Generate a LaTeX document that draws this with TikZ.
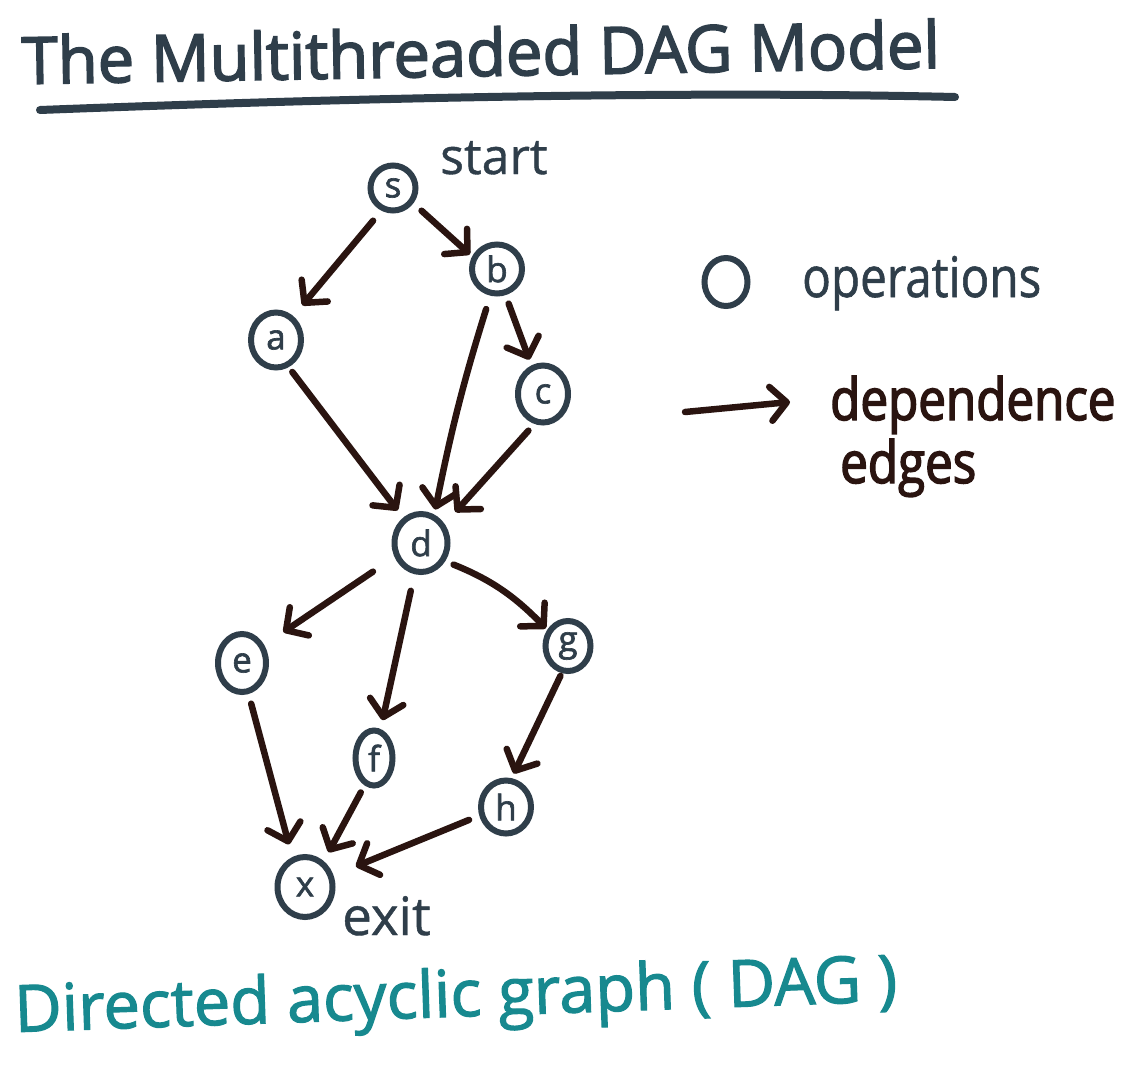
\documentclass[tikz,border=0pt]{standalone}
\usepackage{fontspec}
\setmainfont{Open Sans}
\newfontfamily\hand[FakeBold=0.8]{Open Sans}
\newfontfamily\handn[FakeStretch=0.85,FakeBold=2.5]{Open Sans}
\newfontfamily\handnl[FakeStretch=0.85,FakeBold=1]{Open Sans}
\newfontfamily\handb[FakeBold=2.5]{Open Sans}
\newfontfamily\handl[FakeBold=1.8]{Open Sans}
\usetikzlibrary{arrows.meta,shapes.geometric}
\definecolor{slate}{HTML}{2F3E4A}
\definecolor{ink}{HTML}{2A1410}
\definecolor{tealink}{HTML}{17898F}
\begin{document}
\begin{tikzpicture}[x=1pt,y=-1pt,
  op/.style={ellipse, draw=slate, line width=6pt, inner sep=0pt, text=slate,
    font=\handl\fontsize{35}{37}\selectfont},
  dep/.style={draw=ink, line width=6.5pt, line cap=round,
    -{Straight Barb[length=16pt,width=34pt,round]}},
  lbl/.style={inner sep=0pt, anchor=base west}
]
\path[use as bounding box, fill=white] (0,0) rectangle (1143,1066);

% title
\node[lbl, text=slate, font=\handb\fontsize{65}{65}\selectfont, rotate=1] (title) at (22,84) {The Multithreaded DAG Model};
\coordinate (ul1) at (40,110);
\coordinate (ul2) at (955,97);
\draw[slate, line width=8pt, line cap=round] (ul1) .. controls (300,100) and (650,90) .. (ul2);

% nodes
\node[op, minimum width=45pt, minimum height=45pt] (s) at (393,188) {s};
\node[op, minimum width=50pt, minimum height=49pt] (b) at (497,269) {b};
\node[op, minimum width=50pt, minimum height=55pt] (a) at (276,340) {a};
\node[op, minimum width=50pt, minimum height=57pt] (c) at (543,394) {c};
\node[op, minimum width=53pt, minimum height=58pt] (d) at (421,543) {d};
\node[op, minimum width=48pt, minimum height=58pt] (e) at (242,663) {e};
\node[op, minimum width=45pt, minimum height=50pt] (g) at (568,646) {g};
\node[op, minimum width=37pt, minimum height=55pt] (f) at (374,758) {f};
\node[op, minimum width=50pt, minimum height=53pt] (h) at (506,807) {h};
\node[op, minimum width=55pt, minimum height=60pt] (x) at (305,887) {x};

\node[lbl, text=slate, font=\hand\fontsize{50}{50}\selectfont] (start) at (440,174) {start};
\node[lbl, text=slate, font=\hand\fontsize{53}{53}\selectfont] (exit) at (342,935) {exit};

% edges
\draw[dep, shorten <=13pt, shorten >=14pt] (s.243) -- (a.54);
\draw[dep, shorten <=11pt, shorten >=3pt] (s.323) -- (b.153);
\draw[dep, shorten <=9pt, shorten >=6pt] (b.288) -- (c.112);
\draw[dep, shorten <=14pt, shorten >=5pt] (b.256) to[bend right=3] (d.65);
\draw[dep, shorten <=6pt, shorten >=9pt] (a.295) -- (d.125);
\draw[dep, shorten <=9pt, shorten >=16pt] (c.254) -- (d.39);
\draw[dep, shorten <=26pt, shorten >=23pt] (d.208) -- (e.39);
\draw[dep, shorten <=17pt, shorten >=9pt] (d.258) -- (f.77);
\draw[dep, shorten <=9pt, shorten >=2pt] (d.323) to[bend left=12] (g.142);
\draw[dep, shorten <=3pt, shorten >=5pt] (g.257) -- (h.79);
\draw[dep, shorten <=10pt, shorten >=13pt] (e.282) -- (x.113);
\draw[dep, shorten <=8pt, shorten >=10pt] (f.251) -- (x.54);
\draw[dep, shorten <=11pt, shorten >=24pt] (h.198) -- (x.22);

% legend
\node[op, minimum width=43pt, minimum height=48pt] (leg) at (726,282) {};
\node[lbl, text=slate, font=\handnl\fontsize{56}{56}\selectfont] (ops) at (802,297) {operations};
\coordinate (la1) at (685,412);
\coordinate (la2) at (790,402);
\draw[dep] (la1) -- (la2);
\node[lbl, text=ink, font=\handn\fontsize{58}{58}\selectfont] (depn) at (830,420) {dependence};
\node[lbl, text=ink, font=\handn\fontsize{58}{58}\selectfont] (edges) at (840,483) {edges};

% bottom caption
\node[lbl, text=tealink, font=\handl\fontsize{65}{65}\selectfont, rotate=2] (dag) at (15,1032) {Directed acyclic graph ( DAG )};
\end{tikzpicture}
\end{document}
